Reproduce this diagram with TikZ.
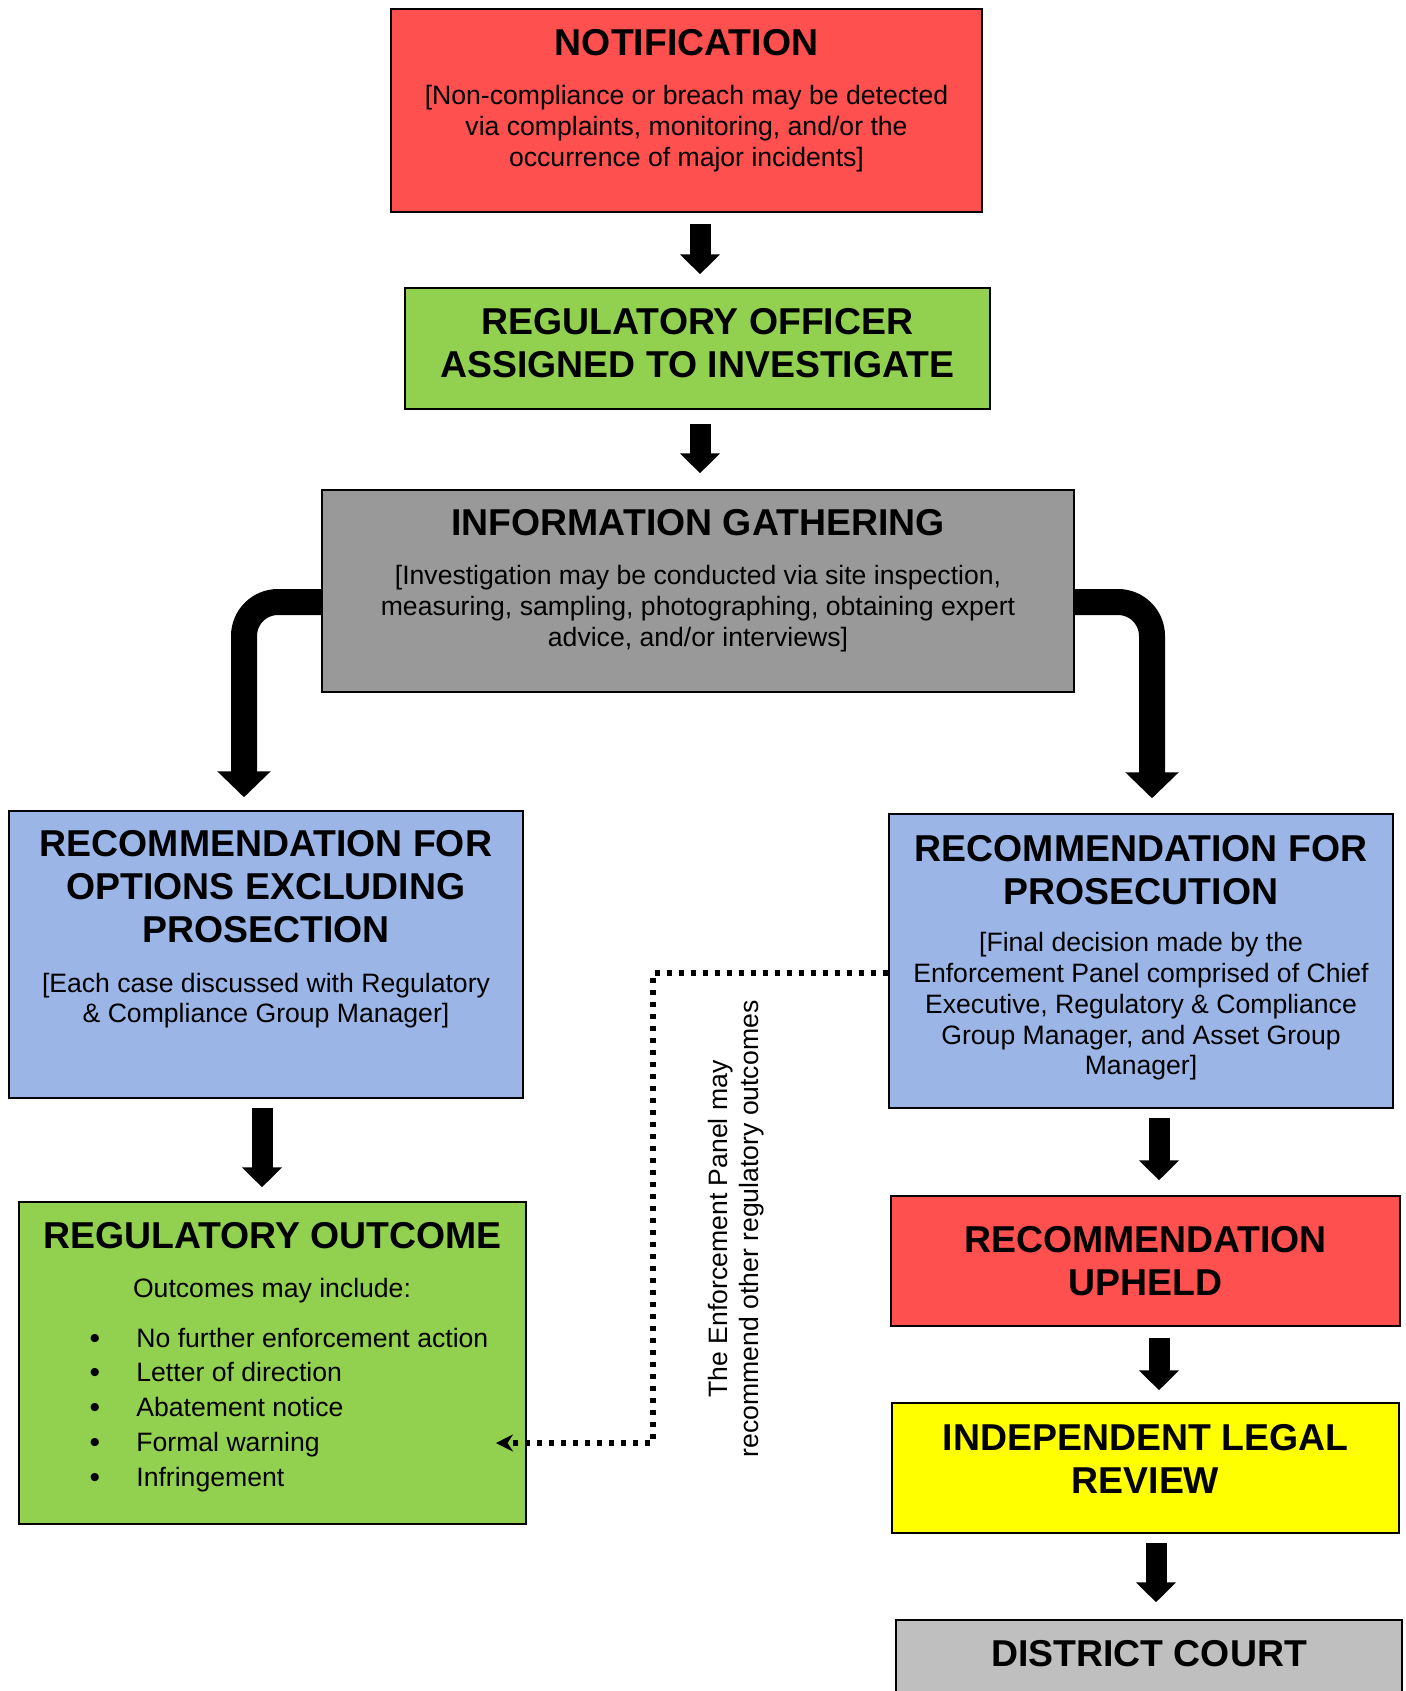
\documentclass[tikz,border=0pt]{standalone}
\usepackage{fontspec}
\setmainfont{Liberation Sans}
\usetikzlibrary{arrows.meta,calc,fit,positioning}

\definecolor{boxred}{HTML}{FF5050}
\definecolor{boxgreen}{HTML}{92D050}
\definecolor{boxgray}{HTML}{999999}
\definecolor{boxblue}{HTML}{9BB5E7}
\definecolor{boxyellow}{HTML}{FFFF00}
\definecolor{courtgray}{HTML}{BFBFBF}

\tikzset{
  box/.style={draw=black, line width=0.75pt, inner sep=0pt},
  head/.style={font=\bfseries\fontsize{18.7}{21.5}\selectfont, align=center, inner sep=0pt},
  body/.style={font=\fontsize{13.3}{15.35}\selectfont, align=center, inner sep=0pt},
  blockarrow/.style={line width=10.5pt, -{Triangle[length=10pt,width=19.5pt]}},
  bigarrow/.style={line width=13pt, rounded corners=17pt, -{Triangle[length=13pt,width=26pt]}},
  dotline/.style={line width=2.8pt, dash pattern=on 2.8pt off 3.2pt, -{Stealth[length=8.5pt,width=8.5pt]}}
}

\begin{document}
\begin{tikzpicture}[x=0.5pt,y=-0.5pt]
  \useasboundingbox (0,0) rectangle (1405,1691);

  % boxes
  \node[box, fill=boxred,    fit={(391,9) (982,212)}]     (notif)   {};
  \node[box, fill=boxgreen,  fit={(405,288) (990,409)}]   (officer) {};
  \node[box, fill=boxgray,   fit={(322,490) (1074,692)}]  (info)    {};
  \node[box, fill=boxblue,   fit={(9,811) (523,1098)}]    (options) {};
  \node[box, fill=boxblue,   fit={(889,814) (1393,1108)}] (prosec)  {};
  \node[box, fill=boxgreen,  fit={(19,1202) (526,1524)}]  (outcome) {};
  \node[box, fill=boxred,    fit={(891,1196) (1400,1326)}] (upheld) {};
  \node[box, fill=boxyellow, fit={(892,1403) (1399,1533)}] (legal)  {};
  \node[box, fill=courtgray, fit={(896,1620) (1402,1720)}] (court)  {};

  % texts
  \node[head] (notif-t) at (686.5,43) {NOTIFICATION};
  \node[body] (notif-b) at (686.5,128.5) {[Non-compliance or breach may be detected\\via complaints, monitoring, and/or the\\occurrence of major incidents]};
  \node[head] (officer-t) at (697.5,343.5) {REGULATORY OFFICER\\ASSIGNED TO INVESTIGATE};
  \node[head] (info-t) at (698,523) {INFORMATION GATHERING};
  \node[body] (info-b) at (698,608.5) {[Investigation may be conducted via site inspection,\\measuring, sampling, photographing, obtaining expert\\advice, and/or interviews]};
  \node[head] (options-t) at (266,886.5) {RECOMMENDATION FOR\\OPTIONS EXCLUDING\\PROSECTION};
  \node[body] (options-b) at (266,1000.5) {[Each case discussed with Regulatory\\\& Compliance Group Manager]};
  \node[head] (prosec-t) at (1141,870) {RECOMMENDATION FOR\\PROSECUTION};
  \node[body] (prosec-b) at (1141,1006.5) {[Final decision made by the\\Enforcement Panel comprised of Chief\\Executive, Regulatory \& Compliance\\Group Manager, and Asset Group\\Manager]};
  \node[head] (outcome-t) at (272.5,1236) {REGULATORY OUTCOME};
  \node[body] (outcome-b) at (272,1291) {Outcomes may include:};
  \foreach \entry [count=\i from 0] in {No further enforcement action, Letter of direction, Abatement notice, Formal warning, Infringement} {
    \node[body, font=\fontsize{15}{15}\selectfont, anchor=base] (dot-\i) at (95,{1348+34.8*\i}) {\textbullet};
    \node[body, anchor=base west] (entry-\i) at (136,{1347+34.8*\i}) {\entry};
  }
  \node[head] (upheld-t) at (1145.5,1261) {RECOMMENDATION\\UPHELD};
  \node[head] (legal-t) at (1145.5,1458.5) {INDEPENDENT LEGAL\\REVIEW};
  \node[head] (court-t) at (1149,1654) {DISTRICT COURT};
  \node[body, rotate=90] (panel-note) at (736,1229) {The Enforcement Panel may\\recommend other regulatory outcomes};

  % straight arrows
  \draw[blockarrow] ($(notif.south)+(13.5,11)$) -- ($(officer.north)+(2.5,-13)$);
  \draw[blockarrow] ($(officer.south)+(2.5,14)$) -- ($(info.north)+(2,-16)$);
  \draw[blockarrow] ($(options.south)+(-4,9)$) -- ($(outcome.north)+(-10.5,-14)$);
  \draw[blockarrow] ($(prosec.south)+(18,9)$) -- ($(upheld.north)+(13.5,-15)$);
  \draw[blockarrow] ($(upheld.south)+(13.5,11)$) -- ($(legal.north)+(13.5,-12)$);
  \draw[blockarrow] ($(legal.south)+(10.5,9)$) -- ($(court.north)+(7,-17)$);

  % bent arrows
  \draw[bigarrow] ($(info.west)+(0,11)$) -| ($(options.north)+(-22,-13)$);
  \draw[bigarrow] ($(info.east)+(0,11)$) -| ($(prosec.north)+(11,-15)$);

  % dotted return
  \coordinate (warn) at (496,1443);
  \draw[dotline] ($(prosec.west)+(0,12)$) -| ($(warn)+(157,0)$) -- (warn);
\end{tikzpicture}
\end{document}
